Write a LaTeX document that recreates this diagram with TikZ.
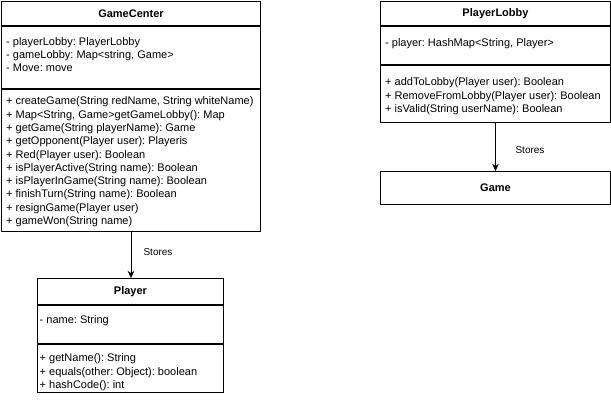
\documentclass[tikz,border=0pt]{standalone}
\usepackage{fontspec}
\setmainfont{Liberation Sans}
\usetikzlibrary{arrows.meta}
\frenchspacing

\begin{document}
\begin{tikzpicture}[x=1pt,y=-1pt,
  classtitle/.style={draw, line width=1pt, anchor=north west, inner sep=0pt, font=\fontsize{11}{13.3}\selectfont\bfseries},
  compartment/.style={draw, line width=1pt, anchor=north west, inner sep=0pt},
  members/.style={anchor=north west, inner sep=0pt, align=left, font=\fontsize{11}{13.3}\selectfont, execute at begin node=\strut},
  stores/.style={font=\fontsize{10}{12}\selectfont, inner sep=0pt},
  assoc/.style={line width=1pt, -{Stealth[length=7pt,width=6.5pt,inset=2pt]}}]

  \useasboundingbox (0,0) rectangle (611,402);

  % GameCenter
  \node [classtitle, minimum width=259pt, minimum height=24pt] (gameCenterTitle) at (1,1) {GameCenter};
  \node [compartment, minimum width=259pt, minimum height=62pt] (gameCenterFields) at (gameCenterTitle.south west) {};
  \node [compartment, minimum width=259pt, minimum height=142pt] (gameCenterMethods) at (gameCenterFields.south west) {};
  \node [members] (gameCenterFieldText) at ([shift={(5,11.2)}]gameCenterFields.north west)
    {- playerLobby: PlayerLobby\\- gameLobby: Map<string, Game>\\- Move: move};
  \node [members] (gameCenterMethodText) at ([shift={(5,7.7)}]gameCenterMethods.north west)
    {+ createGame(String redName, String whiteName)\\
     + Map<String, Game>getGameLobby(): Map\\
     + getGame(String playerName): Game\\
     + getOpponent(Player user): Playeris\\
     + Red(Player user): Boolean\\
     + isPlayerActive(String name): Boolean\\
     + isPlayerInGame(String name): Boolean\\
     + finishTurn(String name): Boolean\\
     + resignGame(Player user)\\
     + gameWon(String name)};

  % Player
  \node [classtitle, minimum width=186pt, minimum height=26pt] (playerTitle) at (37,278) {Player};
  \node [compartment, minimum width=186pt, minimum height=38pt] (playerFields) at (playerTitle.south west) {};
  \node [compartment, minimum width=186pt, minimum height=48pt] (playerMethods) at (playerFields.south west) {};
  \node [members] (playerFieldText) at ([shift={(2.5,9.2)}]playerFields.north west) {- name: String};
  \node [members] (playerMethodText) at ([shift={(2.5,9.7)}]playerMethods.north west)
    {+ getName(): String\\+ equals(other: Object): boolean\\+ hashCode(): int};

  % PlayerLobby
  \node [classtitle, minimum width=230pt, minimum height=24pt] (lobbyTitle) at (380,1) {PlayerLobby};
  \node [compartment, minimum width=230pt, minimum height=38pt] (lobbyFields) at (lobbyTitle.south west) {};
  \node [compartment, minimum width=230pt, minimum height=57pt] (lobbyMethods) at (lobbyFields.south west) {};
  \node [members] (lobbyFieldText) at ([shift={(5,11.2)}]lobbyFields.north west) {- player: HashMap<String, Player>};
  \node [members] (lobbyMethodText) at ([shift={(5,12.7)}]lobbyMethods.north west)
    {+ addToLobby(Player user): Boolean\\+ RemoveFromLobby(Player user): Boolean\\+ isValid(String userName): Boolean};

  % Game
  \node [classtitle, minimum width=230pt, minimum height=33pt] (gameTitle) at (380,171) {Game};

  \draw [assoc] (gameCenterMethods.south) -- (gameCenterMethods.south |- playerTitle.north);
  \node [stores] (storesPlayer) at (158,252) {Stores};

  \draw [assoc] (lobbyMethods.south) -- (gameTitle.north);
  \node [stores] (storesGame) at (530,150) {Stores};

\end{tikzpicture}
\end{document}
